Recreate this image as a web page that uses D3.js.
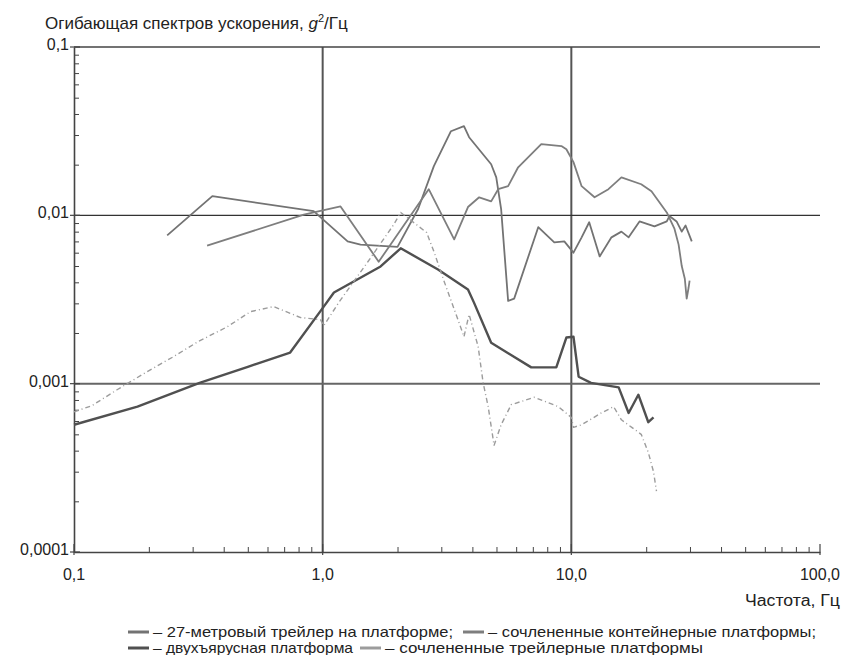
<!DOCTYPE html>
<html>
<head>
<meta charset="utf-8">
<script src="https://cdn.jsdelivr.net/npm/d3@7"></script>
<style>
  body { margin: 0; background: #fff; }
  svg { font-family: "Liberation Sans", Arial, sans-serif; }
</style>
</head>
<body>
<svg id="chart" width="842" height="655"></svg>
<script>
const width = 842;
const height = 655;

// decade labels
const xTicks = [0.1, 1, 10, 100];
const xTickLabels = ["0,1", "1,0", "10,0", "100,0"];
const yTicks = [0.0001, 0.001, 0.01, 0.1];
const yTickLabels = ["0,0001", "0,001", "0,01", "0,1"];

// 27-метровый трейлер на платформе
const trailerF = [0.237, 0.36, 0.92, 1.26, 1.42, 2.0, 2.42, 2.8, 3.28, 3.7, 3.88, 4.76, 4.99, 5.22, 5.57, 5.89, 7.36, 8.54, 9.37, 10.2, 11.0, 11.8, 13.0, 14.5, 15.9, 17.0, 18.8, 21.6, 24.2, 24.8, 26.5, 27.8, 28.8, 30.5];
const trailerV = [0.0076, 0.013, 0.0106, 0.0070, 0.0067, 0.0065, 0.0109, 0.0196, 0.0316, 0.0339, 0.0291, 0.0201, 0.0168, 0.0109, 0.0031, 0.0032, 0.0085, 0.0069, 0.0070, 0.0060, 0.0074, 0.0091, 0.0057, 0.0074, 0.0080, 0.0074, 0.0092, 0.0086, 0.0092, 0.0099, 0.0092, 0.0080, 0.0087, 0.0070];

// сочлененные контейнерные платформы
const containerF = [0.343, 0.84, 1.18, 1.68, 2.67, 3.38, 3.84, 4.26, 4.76, 5.08, 5.57, 6.11, 7.57, 9.12, 9.55, 10.2, 11.0, 12.4, 14.1, 15.9, 19.1, 21.0, 24.2, 26.0, 27.0, 27.8, 28.6, 29.1, 29.6, 29.9];
const containerV = [0.0066, 0.0101, 0.0113, 0.0053, 0.0143, 0.0072, 0.0112, 0.0128, 0.0121, 0.0143, 0.0149, 0.0193, 0.0265, 0.0258, 0.0247, 0.0207, 0.0149, 0.0128, 0.0143, 0.0168, 0.0153, 0.0139, 0.0104, 0.0083, 0.0067, 0.0050, 0.0042, 0.0032, 0.0037, 0.0041];

// двухъярусная платформа
const doubleF = [0.1, 0.18, 0.32, 0.50, 0.74, 1.01, 1.11, 1.71, 2.06, 2.91, 3.84, 4.06, 4.76, 6.9, 8.7, 9.55, 10.2, 10.7, 12.0, 15.5, 17.0, 18.6, 20.4, 21.4];
const doubleV = [0.00057, 0.00073, 0.00101, 0.00126, 0.00153, 0.00287, 0.00348, 0.00497, 0.00637, 0.00477, 0.00363, 0.00303, 0.00175, 0.00125, 0.00125, 0.00188, 0.0019, 0.0011, 0.00101, 0.00095, 0.00067, 0.00086, 0.00059, 0.00063];

// сочлененные трейлерные платформы
const semiF = [0.1, 0.118, 0.149, 0.197, 0.252, 0.316, 0.414, 0.513, 0.635, 0.815, 0.98, 1.01, 1.16, 1.52, 1.93, 2.06, 2.62, 2.8, 3.08, 3.5, 3.7, 3.88, 4.22, 4.42, 4.63, 4.89, 5.22, 5.73, 7.1, 8.87, 10.0, 10.2, 11.0, 13.2, 14.8, 15.9, 17.5, 19.1, 20.4, 21.4, 22.0];
const semiV = [0.00068, 0.00074, 0.00092, 0.00118, 0.00145, 0.00178, 0.00218, 0.00268, 0.00287, 0.00247, 0.0024, 0.00221, 0.00303, 0.0053, 0.0088, 0.0104, 0.0079, 0.0061, 0.00405, 0.0024, 0.0019, 0.00258, 0.00166, 0.00101, 0.00073, 0.00043, 0.00057, 0.00075, 0.00083, 0.00073, 0.00063, 0.00055, 0.00057, 0.00067, 0.00073, 0.00061, 0.00055, 0.0005, 0.00039, 0.0003, 0.00023];

const series = [
  { f: trailerF, v: trailerV, color: "#737373", w: 1.8, dash: null },
  { f: containerF, v: containerV, color: "#7e7e7e", w: 1.8, dash: null },
  { f: doubleF, v: doubleV, color: "#505050", w: 2.4, dash: null },
  { f: semiF, v: semiV, color: "#9c9c9c", w: 1.4, dash: "5,3,1,3" }
];

const margin = { left: 74, right: 820, top: 47, bottom: 552 };

const svg = d3.select("#chart");

const x = d3.scaleLog().domain([0.1, 100]).range([margin.left, margin.right]);
const y = d3.scaleLog().domain([0.0001, 0.1]).range([margin.bottom, margin.top]);

// minor ticks 2..9 in each decade
const minorX = [];
[0.1, 1, 10].forEach(d => { for (let k = 2; k <= 9; k++) minorX.push(d * k); });
const minorY = [];
[0.0001, 0.001, 0.01].forEach(d => { for (let k = 2; k <= 9; k++) minorY.push(d * k); });

// grid at decades
svg.append("g")
  .selectAll("line")
  .data([1, 10])
  .join("line")
    .attr("x1", d => x(d)).attr("x2", d => x(d))
    .attr("y1", margin.top).attr("y2", margin.bottom)
    .attr("stroke", "#555").attr("stroke-width", 2);

svg.append("g")
  .selectAll("line")
  .data([0.001, 0.01])
  .join("line")
    .attr("x1", margin.left).attr("x2", margin.right)
    .attr("y1", d => y(d)).attr("y2", d => y(d))
    .attr("stroke", d => d === 0.01 ? "#333" : "#666")
    .attr("stroke-width", d => d === 0.01 ? 1.4 : 2);

// top border
svg.append("line")
  .attr("x1", margin.left).attr("x2", margin.right)
  .attr("y1", margin.top).attr("y2", margin.top)
  .attr("stroke", "#444").attr("stroke-width", 1.4);

// axes
const xAxis = svg.append("g")
  .attr("transform", `translate(0,${margin.bottom})`)
  .call(d3.axisBottom(x).tickValues(minorX).tickSizeInner(-5).tickSizeOuter(0).tickFormat(""));
xAxis.select(".domain").attr("stroke", "#444").attr("stroke-width", 1.6);
xAxis.selectAll(".tick line").attr("stroke", "#444");

svg.append("g")
  .selectAll("line")
  .data(xTicks)
  .join("line")
    .attr("x1", d => x(d)).attr("x2", d => x(d))
    .attr("y1", margin.bottom - 8).attr("y2", margin.bottom + 3)
    .attr("stroke", "#444").attr("stroke-width", 1.2);

svg.append("g")
  .selectAll("text")
  .data(xTicks)
  .join("text")
    .attr("x", d => x(d))
    .attr("y", margin.bottom + 28)
    .attr("text-anchor", "middle")
    .attr("font-size", 16)
    .attr("fill", "#222")
    .text((d, i) => xTickLabels[i]);

const yAxis = svg.append("g")
  .attr("transform", `translate(${margin.left},0)`)
  .call(d3.axisLeft(y).tickValues(minorY).tickSizeInner(-5).tickSizeOuter(0).tickFormat(""));
yAxis.select(".domain").attr("stroke", "#444").attr("stroke-width", 1.6);
yAxis.selectAll(".tick line").attr("stroke", "#444");

svg.append("g")
  .selectAll("line")
  .data(yTicks)
  .join("line")
    .attr("x1", margin.left - 4).attr("x2", margin.left + 6)
    .attr("y1", d => y(d)).attr("y2", d => y(d))
    .attr("stroke", "#444").attr("stroke-width", 1.2);

svg.append("g")
  .selectAll("text")
  .data(yTicks)
  .join("text")
    .attr("x", margin.left - 5)
    .attr("y", d => y(d) + 3)
    .attr("text-anchor", "end")
    .attr("font-size", 16)
    .attr("fill", "#222")
    .text((d, i) => yTickLabels[i]);

// titles
const yTitle = svg.append("text")
  .attr("x", 45).attr("y", 29)
  .attr("font-size", 17)
  .attr("fill", "#222");
yTitle.append("tspan").text("Огибающая спектров ускорения, ");
yTitle.append("tspan").attr("font-style", "italic").text("g");
yTitle.append("tspan").attr("font-size", 11).attr("dy", -7).text("2");
yTitle.append("tspan").attr("dy", 7).text("/Гц");

svg.append("text")
  .attr("x", 840).attr("y", 606)
  .attr("text-anchor", "end")
  .attr("font-size", 16)
  .attr("textLength", 95)
  .attr("lengthAdjust", "spacingAndGlyphs")
  .attr("fill", "#222")
  .text("Частота, Гц");

// series
const line = d3.line()
  .x(d => x(d[0]))
  .y(d => y(d[1]));

svg.append("g")
  .selectAll("path")
  .data(series)
  .join("path")
    .attr("d", s => line(s.f.map((f, i) => [f, s.v[i]])))
    .attr("fill", "none")
    .attr("stroke", s => s.color)
    .attr("stroke-width", s => s.w)
    .attr("stroke-linejoin", "round")
    .attr("stroke-dasharray", s => s.dash);

// legend
const legendItems = [
  { s: 0, x: 128, y: 637, len: 300, text: "– 27-метровый трейлер на платформе;" },
  { s: 1, x: 463, y: 637, len: 328, text: "– сочлененные контейнерные платформы;" },
  { s: 2, x: 128, y: 653, len: 200, text: "– двухъярусная платформа" },
  { s: 3, x: 360, y: 653, len: 318, text: "– сочлененные трейлерные платформы" }
];

const legend = svg.append("g")
  .selectAll("g")
  .data(legendItems)
  .join("g")
    .attr("transform", d => `translate(${d.x},${d.y})`);

legend.append("line")
  .attr("x1", 0).attr("x2", 21)
  .attr("y1", -5).attr("y2", -5)
  .attr("stroke", d => series[d.s].color)
  .attr("stroke-width", 3);

legend.append("text")
  .attr("x", 25)
  .attr("y", 0)
  .attr("font-size", 15)
  .attr("textLength", d => d.len)
  .attr("lengthAdjust", "spacingAndGlyphs")
  .attr("fill", "#222")
  .text(d => d.text);
</script>
</body>
</html>
